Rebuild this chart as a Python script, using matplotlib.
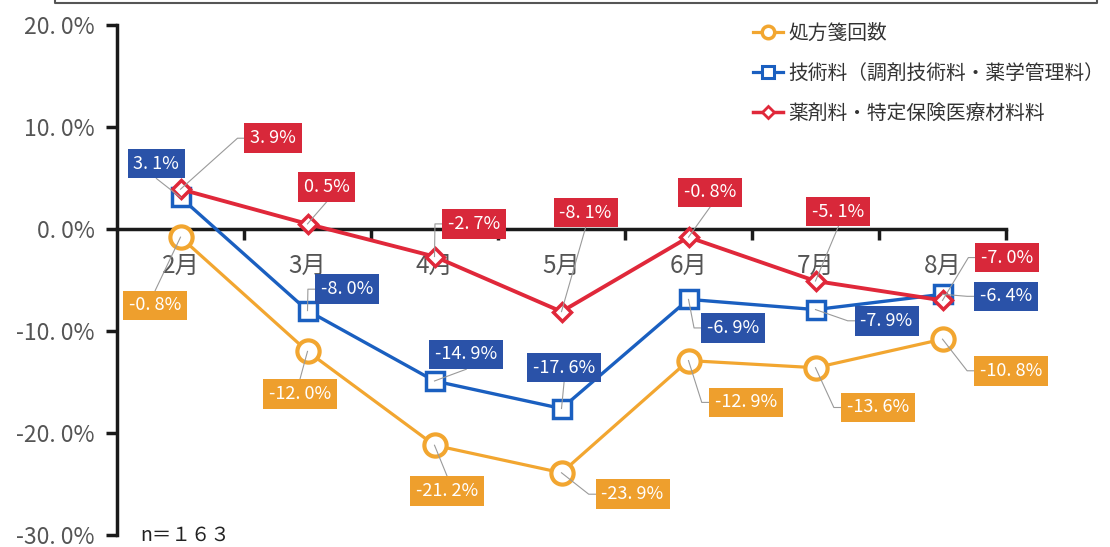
import numpy as np
import matplotlib
matplotlib.use("Agg")
import matplotlib.pyplot as plt
from matplotlib.lines import Line2D

plt.rcParams['font.family'] = ['Noto Sans CJK JP', 'DejaVu Sans']

# ---------------- data ----------------
months = ["2月", "3月", "4月", "5月", "6月", "7月", "8月"]
series_names = ["処方箋回数", "技術料（調剤技術料・薬学管理料）", "薬剤料・特定保険医療材料料"]
rx_count = [-0.8, -12.0, -21.2, -23.9, -12.9, -13.6, -10.8]
tech_fee = [3.1, -8.0, -14.9, -17.6, -6.9, -7.9, -6.4]
drug_fee = [3.9, 0.5, -2.7, -8.1, -0.8, -5.1, -7.0]
y_ticks = [-30, -20, -10, 0, 10, 20]
n_text = "n＝１６３"

# ---------------- layout (label box centres, data coords) ----------------
lab_x_rx = [-0.20, 0.94, 2.10, 3.56, 4.45, 5.49, 6.54]
lab_y_rx = [-7.5, -16.2, -25.7, -26.0, -17.0, -17.5, -13.9]
lab_x_tech = [-0.19, 1.31, 2.25, 3.02, 4.35, 5.56, 6.50]
lab_y_tech = [6.4, -5.9, -12.3, -13.6, -9.7, -9.0, -6.6]
lab_x_drug = [0.73, 1.15, 2.31, 3.19, 4.17, 5.18, 6.51]
lab_y_drug = [8.9, 4.1, 0.5, 1.6, 3.6, 1.7, -2.8]

c_orange, c_blue, c_red = "#F2A630", "#1A5FC0", "#E0283A"
box_orange, box_blue, box_red = "#EE9F2D", "#2A52A8", "#D8283A"

W, H = 1110, 547
fig = plt.figure(figsize=(W / 100, H / 100), dpi=100)
ax = fig.add_axes([117 / W, 12 / H, (1006 - 117) / W, (535 - 25) / H])
ax.set_xlim(-0.5, 6.5)
ax.set_ylim(-30, 20)

x = np.arange(len(months))
l1, = ax.plot(x, rx_count, color=c_orange, lw=2.3, marker='o', ms=16, mew=3,
              mfc='white', mec=c_orange, zorder=3, clip_on=False)
l2, = ax.plot(x, tech_fee, color=c_blue, lw=2.4, marker='s', ms=13, mew=2.5,
              mfc='white', mec=c_blue, zorder=4, clip_on=False)
l3, = ax.plot(x, drug_fee, color=c_red, lw=2.8, marker='D', ms=9, mew=2.5,
              mfc='white', mec=c_red, zorder=5, clip_on=False)

# axes styling
for s in ['top', 'right']:
    ax.spines[s].set_visible(False)
ax.spines['left'].set_linewidth(2.5)
ax.spines['left'].set_color('#1a1a1a')
ax.spines['bottom'].set_position(('data', 0))
ax.spines['bottom'].set_linewidth(2.5)
ax.spines['bottom'].set_color('#1a1a1a')
ax.spines['bottom'].set_zorder(2)

ax.set_yticks(y_ticks)
ax.set_yticklabels([f"{v:.1f}%".replace('.', '. ') for v in y_ticks],
                   fontsize=16.5, color='#555555')
ax.tick_params(axis='y', direction='out', length=8, width=2.5, pad=8, colors='#1a1a1a',
               labelcolor='#555555')

ax.set_xticks(np.arange(0.5, 7, 1))
ax.set_xticklabels([])
ax.tick_params(axis='x', which='major', direction='out', length=8, width=2.5, colors='#1a1a1a')
ax.set_xticks(x, minor=True)
ax.set_xticklabels(months, minor=True, fontsize=17.5, color='#555555')
ax.tick_params(axis='x', which='minor', length=0, pad=17)

# data labels with leader lines
def add_labels(vals, lx, ly, boxc):
    texts = []
    for xi, v, tx, ty in zip(x, vals, lx, ly):
        t = ax.text(tx, ty, f"{v:.1f}%".replace('.', '. '), ha='center', va='center',
                    fontsize=13, color='white', zorder=8,
                    bbox=dict(boxstyle='square,pad=0.32', fc=boxc, ec='none'))
        texts.append((t, xi, v))
    return texts

all_labels = []
all_labels += add_labels(rx_count, lab_x_rx, lab_y_rx, box_orange)
all_labels += add_labels(tech_fee, lab_x_tech, lab_y_tech, box_blue)
all_labels += add_labels(drug_fee, lab_x_drug, lab_y_drug, box_red)

fig.canvas.draw()
renderer = fig.canvas.get_renderer()
inv = ax.transData.inverted()
for t, xi, v in all_labels:
    bb = t.get_bbox_patch().get_window_extent(renderer)
    px, py = ax.transData.transform((xi, v))
    midy = (bb.y0 + bb.y1) / 2
    midx = (bb.x0 + bb.x1) / 2
    if px < bb.x0:
        pts = [(px, py), (bb.x0 - 7, midy), (bb.x0, midy)]
    elif px > bb.x1:
        pts = [(px, py), (bb.x1 + 7, midy), (bb.x1, midy)]
    else:
        edge = bb.y0 if py < bb.y0 else bb.y1
        pts = [(px, py), (midx, edge)]
    d = inv.transform(pts)
    ax.plot(d[:, 0], d[:, 1], color='#9a9a9a', lw=0.8, zorder=6, clip_on=False)

# legend
h1 = Line2D([], [], color=c_orange, lw=2.3, marker='o', ms=9, mew=2.5, mfc='white', mec=c_orange)
h2 = Line2D([], [], color=c_blue, lw=2.3, marker='s', ms=8, mew=2.2, mfc='white', mec=c_blue)
h3 = Line2D([], [], color=c_red, lw=2.5, marker='D', ms=6.5, mew=2, mfc='white', mec=c_red)
leg = fig.legend([h1, h2, h3], series_names, loc='upper left',
                 bbox_to_anchor=(753 / W, (H - 23) / H), bbox_transform=fig.transFigure,
                 frameon=False, fontsize=14.2, handlelength=1.5, handletextpad=0.3,
                 labelspacing=0.95, borderpad=0, borderaxespad=0)
for txt in leg.get_texts():
    txt.set_color('#333333')

# n text
fig.text(140 / W, (H - 535) / H, n_text, fontsize=14, color='#222222', va='center', ha='left')

# partial top frame (bottom edge of title box)
fig.add_artist(Line2D([55 / W, 55 / W, 1097 / W, 1097 / W],
                      [1.0, (H - 3) / H, (H - 3) / H, 1.0],
                      transform=fig.transFigure, color='#555555', lw=1.5))

fig.savefig("out.png", dpi=100)
